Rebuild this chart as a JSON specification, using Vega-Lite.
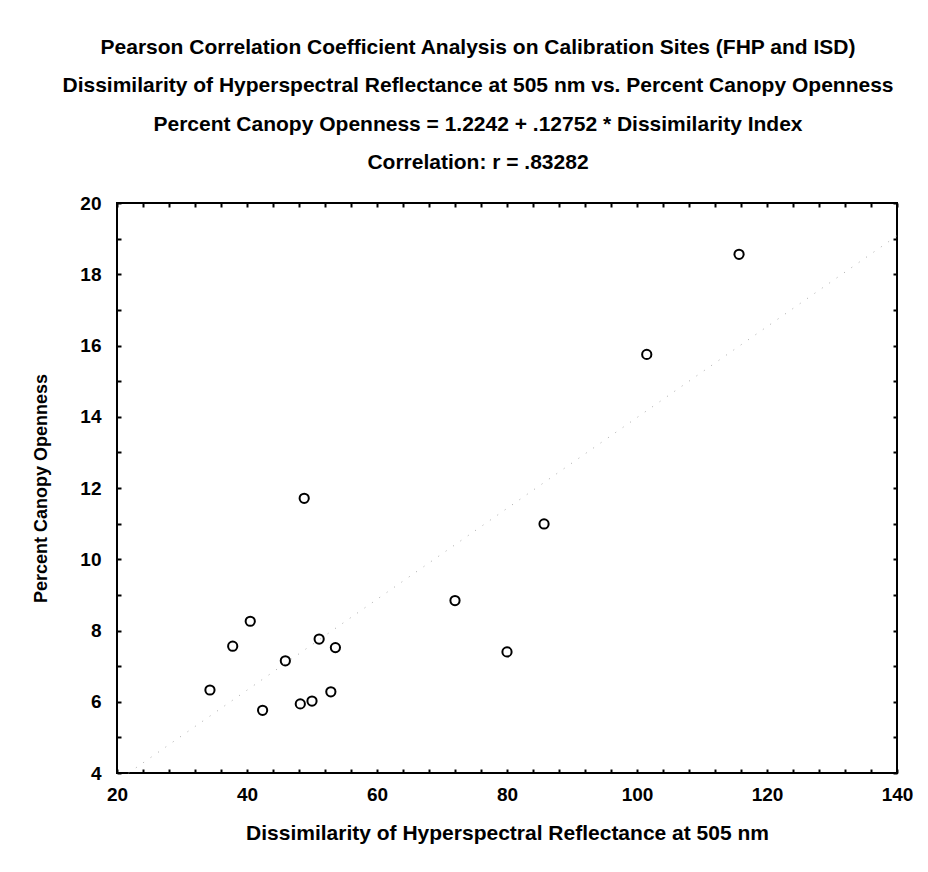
{
  "$schema": "https://vega.github.io/schema/vega-lite/v6.json",
  "width": 780,
  "height": 570,
  "autosize": {"type": "none"},
  "padding": {"left": 117, "top": 203, "right": 31, "bottom": 99},
  "background": "white",
  "title": {
    "text": [
      "Pearson Correlation Coefficient Analysis on Calibration Sites (FHP and ISD)",
      "Dissimilarity of Hyperspectral Reflectance at 505 nm vs. Percent Canopy Openness",
      "Percent Canopy Openness = 1.2242 + .12752 * Dissimilarity Index",
      "Correlation: r = .83282"
    ],
    "font": "Liberation Sans",
    "fontWeight": "bold",
    "fontSize": 21,
    "lineHeight": 38.5,
    "anchor": "middle",
    "dx": -29,
    "offset": 21,
    "color": "black"
  },
  "config": {
    "view": {"stroke": "black", "strokeWidth": 2},
    "axis": {
      "labelFont": "Liberation Sans",
      "labelFontWeight": "bold",
      "labelFontSize": 19,
      "labelColor": "black",
      "titleFont": "Liberation Sans",
      "titleFontWeight": "bold",
      "titleFontSize": 21,
      "titleColor": "black",
      "domain": false,
      "grid": false,
      "tickColor": "black",
      "tickWidth": 2,
      "labelOverlap": false,
      "labelFlush": false
    }
  },
  "layer": [
    {
      "data": {
        "values": [
          {"dissimilarity": 34.3, "openness": 6.33},
          {"dissimilarity": 37.8, "openness": 7.56},
          {"dissimilarity": 40.5, "openness": 8.26},
          {"dissimilarity": 42.4, "openness": 5.76},
          {"dissimilarity": 45.9, "openness": 7.15},
          {"dissimilarity": 48.2, "openness": 5.94},
          {"dissimilarity": 48.8, "openness": 11.71},
          {"dissimilarity": 50.0, "openness": 6.02},
          {"dissimilarity": 51.1, "openness": 7.76},
          {"dissimilarity": 52.9, "openness": 6.28},
          {"dissimilarity": 53.6, "openness": 7.52},
          {"dissimilarity": 72.0, "openness": 8.84},
          {"dissimilarity": 80.0, "openness": 7.40},
          {"dissimilarity": 85.7, "openness": 10.99},
          {"dissimilarity": 101.5, "openness": 15.75},
          {"dissimilarity": 115.7, "openness": 18.56}
        ]
      },
      "mark": {"type": "point", "shape": "circle", "filled": false, "color": "black", "strokeWidth": 2, "size": 85, "opacity": 1},
      "encoding": {
        "x": {
          "field": "dissimilarity",
          "type": "quantitative",
          "scale": {"domain": [20, 140], "nice": false, "zero": false},
          "axis": {
            "orient": "bottom",
            "title": "Dissimilarity of Hyperspectral Reflectance at 505 nm",
            "values": [20, 24, 28, 32, 36, 40, 44, 48, 52, 56, 60, 64, 68, 72, 76, 80, 84, 88, 92, 96, 100, 104, 108, 112, 116, 120, 124, 128, 132, 136, 140],
            "labelExpr": "datum.value % 20 == 0 ? datum.label : ''",
            "tickSize": -4,
            "labelPadding": 16,
            "titlePadding": 18
          }
        },
        "y": {
          "field": "openness",
          "type": "quantitative",
          "scale": {"domain": [4, 20], "nice": false, "zero": false},
          "axis": {
            "orient": "left",
            "title": "Percent Canopy Openness",
            "titleFontSize": 18,
            "values": [4, 5, 6, 7, 8, 9, 10, 11, 12, 13, 14, 15, 16, 17, 18, 19, 20],
            "labelExpr": "datum.value % 2 == 0 ? datum.label : ''",
            "tickSize": -4,
            "labelPadding": 20,
            "titlePadding": 29
          }
        }
      }
    },
    {
      "data": {
        "values": [
          {"dissimilarity": 21.77, "openness": 4.0},
          {"dissimilarity": 140, "openness": 19.08}
        ]
      },
      "mark": {"type": "line", "color": "#aaaaaa", "strokeWidth": 1, "strokeDash": [1, 8]},
      "encoding": {
        "x": {
          "field": "dissimilarity",
          "type": "quantitative",
          "axis": {
            "orient": "top",
            "title": null,
            "labels": false,
            "values": [20, 24, 28, 32, 36, 40, 44, 48, 52, 56, 60, 64, 68, 72, 76, 80, 84, 88, 92, 96, 100, 104, 108, 112, 116, 120, 124, 128, 132, 136, 140],
            "tickSize": -4
          }
        },
        "y": {
          "field": "openness",
          "type": "quantitative",
          "axis": {
            "orient": "right",
            "title": null,
            "labels": false,
            "values": [4, 5, 6, 7, 8, 9, 10, 11, 12, 13, 14, 15, 16, 17, 18, 19, 20],
            "tickSize": -4
          }
        }
      }
    }
  ],
  "resolve": {"axis": {"x": "independent", "y": "independent"}}
}
